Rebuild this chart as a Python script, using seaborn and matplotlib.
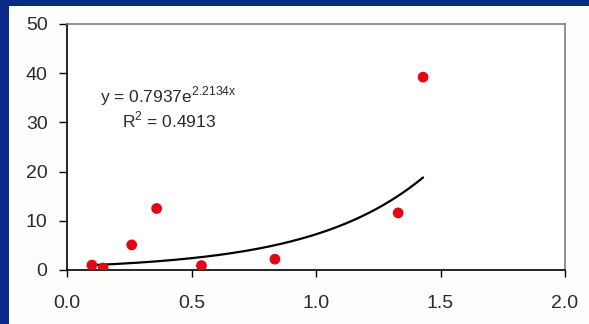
import numpy as np
import pandas as pd
import matplotlib
matplotlib.use("Agg")
import matplotlib.pyplot as plt
import seaborn as sns
from matplotlib.patches import Rectangle

# data
x_vals = [0.10, 0.145, 0.26, 0.36, 0.54, 0.835, 1.33, 1.43]
y_vals = [1.0, 0.4, 5.1, 12.5, 0.9, 2.2, 11.6, 39.2]
coef_a = 0.7937
coef_b = 2.2134
r2 = 0.4913
x_ticks = [0.0, 0.5, 1.0, 1.5, 2.0]
y_ticks = [0, 10, 20, 30, 40, 50]

sns.set_theme(style="white")
plt.rcParams['font.family'] = ['Liberation Sans', 'DejaVu Sans']

W, H = 589, 324
fig = plt.figure(figsize=(W / 100, H / 100), dpi=100)
fig.patch.set_facecolor('#0a2a88')
fig.patches.append(Rectangle((9 / W, 0), 1 - 9 / W, 1 - 6 / H, transform=fig.transFigure,
                             facecolor='#fdfdfb', edgecolor='none', zorder=-5))

ax = fig.add_axes([67 / W, 1 - 270 / H, (565 - 67) / W, (270 - 24) / H])
ax.set_zorder(5)
ax.set_facecolor('white')

df = pd.DataFrame({'x': x_vals, 'y': y_vals})
xs = np.linspace(min(x_vals), max(x_vals), 200)
trend = pd.DataFrame({'x': xs, 'y': coef_a * np.exp(coef_b * xs)})

sns.lineplot(data=trend, x='x', y='y', ax=ax, color='black', linewidth=1.6, zorder=2)
sns.scatterplot(data=df, x='x', y='y', ax=ax, color='#e30613', s=60, edgecolor='none', zorder=3)

ax.set_xlim(0, 2.0)
ax.set_ylim(0, 50)
ax.set_xticks(x_ticks)
ax.set_xticklabels([f"{v:.1f}" for v in x_ticks])
ax.set_yticks(y_ticks)
ax.set_yticklabels([str(v) for v in y_ticks])
ax.set_xlabel('')
ax.set_ylabel('')

for s in ['left', 'bottom']:
    ax.spines[s].set_color('black')
    ax.spines[s].set_linewidth(1.2)
for s in ['top', 'right']:
    ax.spines[s].set_color('#7f7f7f')
    ax.spines[s].set_linewidth(1.2)

ax.tick_params(axis='x', direction='out', length=5, width=1, color='black',
               pad=13, labelsize=14, labelcolor='#2b2b2b', bottom=True)
ax.tick_params(axis='y', direction='out', length=6, width=1, color='black',
               pad=8, labelsize=14, labelcolor='#2b2b2b', left=True)

ax.text(0.066, 0.705, f"y = {coef_a}e$^{{\\mathregular{{{coef_b}x}}}}$", transform=ax.transAxes,
        fontsize=12.5, color='#2b2b2b', ha='left', va='center')
ax.text(0.11, 0.61, f"R$^{{\\mathregular{{2}}}}$ = {r2}", transform=ax.transAxes,
        fontsize=12.5, color='#2b2b2b', ha='left', va='center')

fig.savefig('out.png', dpi=100, facecolor=fig.get_facecolor())
